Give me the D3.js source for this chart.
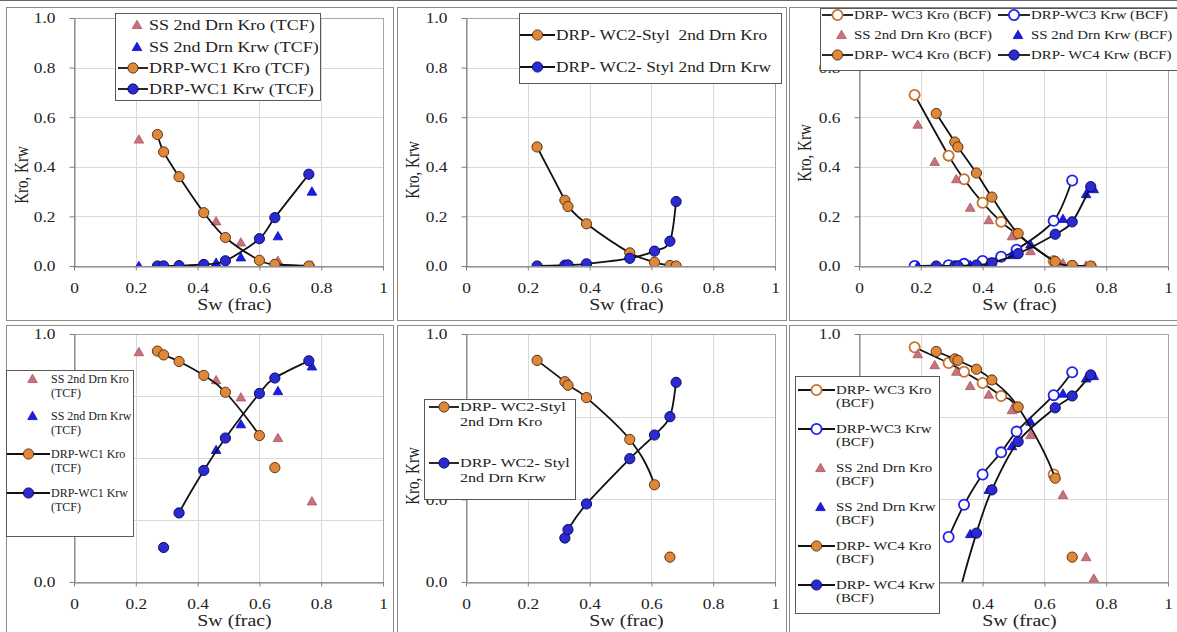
<!DOCTYPE html>
<html>
<head>
<meta charset="utf-8">
<script src="https://cdn.jsdelivr.net/npm/d3@7"></script>
<style>
  body { margin: 0; background: #fff; }
  svg { display: block; }
</style>
</head>
<body>
<div id="chart"></div>
<script>
const W = 1177, H = 632;

// ---- data ----
const swTicks = [0, 0.2, 0.4, 0.6, 0.8, 1];
const linTicks = [0, 0.2, 0.4, 0.6, 0.8, 1];
const logTicks4 = [1, 0.1, 0.01, 0.001, 0.0001];
const logTicks3 = [1, 0.1, 0.01, 0.001];

// steady state, TCF
const ssTcfSw = [0.21, 0.46, 0.54, 0.66, 0.77];
const ssTcfKro = [0.51, 0.18, 0.095, 0.021, 0.002];
const ssTcfKrw = [0, 0.0135, 0.035, 0.12, 0.30];

// DRP WC1 (TCF)
const wc1Sw = [0.27, 0.29, 0.34, 0.42, 0.49, 0.60, 0.65, 0.76];
const wc1Kro = [0.53, 0.46, 0.36, 0.215, 0.115, 0.023, 0.007, 0];
const wc1Krw = [0, 0.00036, 0.0013, 0.0063, 0.021, 0.11, 0.195, 0.37];

// DRP WC2 Styl
const wc2Sw = [0.23, 0.32, 0.33, 0.39, 0.53, 0.61, 0.66, 0.68];
const wc2Kro = [0.48, 0.265, 0.24, 0.17, 0.053, 0.015, 0.002, 0];
const wc2Krw = [0, 0.0034, 0.0043, 0.0088, 0.031, 0.06, 0.10, 0.26];

// DRP WC3 (BCF)
const wc3Sw = [0.18, 0.29, 0.34, 0.40, 0.46, 0.51, 0.63, 0.69];
const wc3Kro = [0.69, 0.445, 0.35, 0.255, 0.178, 0.13, 0.02, 0];
const wc3Krw = [0, 0.0035, 0.0086, 0.020, 0.037, 0.066, 0.182, 0.345];

// DRP WC4 (BCF)
const wc4Sw = [0.25, 0.31, 0.32, 0.38, 0.43, 0.515, 0.635, 0.69, 0.75];
const wc4Kro = [0.615, 0.50, 0.48, 0.375, 0.278, 0.131, 0.018, 0.002, 0];
const wc4Krw = [0, 0.0002, 0.0006, 0.0039, 0.013, 0.05, 0.128, 0.178, 0.32];

// steady state, BCF
const ssBcfSw = [0.19, 0.245, 0.315, 0.36, 0.42, 0.495, 0.555, 0.66, 0.735, 0.76];
const ssBcfKro = [0.57, 0.42, 0.35, 0.235, 0.185, 0.12, 0.06, 0.0113, 0.002, 0.0011];
const ssBcfKrw = [0, 0, 0, 0.0038, 0.013, 0.044, 0.087, 0.19, 0.29, 0.31];

// ---- looks ----
const SX = 1.24; // the picture is stretched sideways
const FONT = '"Liberation Serif","Times New Roman",serif';
const INK = "#222";

const looks = {
  ssKro: { shape: "tri", fill: "#c7737c", stroke: "#a9545f", sw: 0.8, line: false },
  ssKrw: { shape: "tri", fill: "#1c1ce6", stroke: "#0c0cb4", sw: 0.8, line: false },
  kro: { shape: "dot", fill: "#e0883a", stroke: "#5c3414", sw: 1, line: true },
  krw: { shape: "dot", fill: "#2a2ad0", stroke: "#0b0b66", sw: 1, line: true },
  kroOpen: { shape: "dot", fill: "#fff", stroke: "#c9702c", sw: 1.8, line: true },
  krwOpen: { shape: "dot", fill: "#fff", stroke: "#2222ee", sw: 1.8, line: true },
};

// logGaps: smoothed segments that the log charts leave out
const series = {
  ssTcfKro: { sw: ssTcfSw, kr: ssTcfKro, look: "ssKro" },
  ssTcfKrw: { sw: ssTcfSw, kr: ssTcfKrw, look: "ssKrw" },
  wc1Kro: { sw: wc1Sw, kr: wc1Kro, look: "kro", logGaps: [5] },
  wc1Krw: { sw: wc1Sw, kr: wc1Krw, look: "krw", logGaps: [1] },
  wc2Kro: { sw: wc2Sw, kr: wc2Kro, look: "kro", logGaps: [5] },
  wc2Krw: { sw: wc2Sw, kr: wc2Krw, look: "krw", logGaps: [1] },
  wc3Kro: { sw: wc3Sw, kr: wc3Kro, look: "kroOpen", logGaps: [5] },
  wc3Krw: { sw: wc3Sw, kr: wc3Krw, look: "krwOpen" },
  wc4Kro: { sw: wc4Sw, kr: wc4Kro, look: "kro", logGaps: [6] },
  wc4Krw: { sw: wc4Sw, kr: wc4Krw, look: "krw" },
  ssBcfKro: { sw: ssBcfSw, kr: ssBcfKro, look: "ssKro" },
  ssBcfKrw: { sw: ssBcfSw, kr: ssBcfKrw, look: "ssKrw" },
};

const cols = [
  { x0: 6, x1: 393, px0: 74, px1: 383 },
  { x0: 397, x1: 786, px0: 466, px1: 775 },
  { x0: 789, x1: 1190, px0: 859, px1: 1168 },
];
const rows = [
  { y0: 7, y1: 320, py0: 18, py1: 266 },
  { y0: 325, y1: 645, py0: 334, py1: 582 },
];

const panels = [
  {
    col: 0, row: 0, ticks: linTicks, titleDy: 157,
    draw: ["ssTcfKro", "ssTcfKrw", "wc1Kro", "wc1Krw"],
    legend: {
      box: [115, 13, 205, 87], font: 14.5, sx: SX, gap: 0,
      colX: [[118, 148, 149]], rowY: [25, 47, 68, 89],
      items: [
        ["ssTcfKro", 0, 0, ["SS 2nd Drn Kro (TCF)"]],
        ["ssTcfKrw", 0, 1, ["SS 2nd Drn Krw (TCF)"]],
        ["wc1Kro", 0, 2, ["DRP-WC1 Kro (TCF)"]],
        ["wc1Krw", 0, 3, ["DRP-WC1 Krw (TCF)"]],
      ],
    },
  },
  {
    col: 1, row: 0, ticks: linTicks, titleDy: 152,
    draw: ["wc2Kro", "wc2Krw"],
    legend: {
      box: [519, 13, 262, 70], font: 14, sx: SX, gap: 0,
      colX: [[520, 555, 556]], rowY: [35, 67],
      items: [
        ["wc2Kro", 0, 0, ["DRP- WC2-Styl  2nd Drn Kro"]],
        ["wc2Krw", 0, 1, ["DRP- WC2- Styl 2nd Drn Krw"]],
      ],
    },
  },
  {
    col: 2, row: 0, ticks: linTicks, titleDy: 135,
    draw: ["wc3Kro", "wc3Krw", "ssBcfKro", "ssBcfKrw", "wc4Kro", "wc4Krw"],
    legend: {
      box: [820, 8, 370, 62], font: 12, sx: SX, gap: 0,
      colX: [[822, 853, 854], [998, 1030, 1031]], rowY: [15, 35, 55],
      items: [
        ["wc3Kro", 0, 0, ["DRP- WC3 Kro (BCF)"]],
        ["wc3Krw", 1, 0, ["DRP-WC3 Krw (BCF)"]],
        ["ssBcfKro", 0, 1, ["SS 2nd Drn Kro (BCF)"]],
        ["ssBcfKrw", 1, 1, ["SS 2nd Drn Krw (BCF)"]],
        ["wc4Kro", 0, 2, ["DRP- WC4 Kro (BCF)"]],
        ["wc4Krw", 1, 2, ["DRP- WC4 Krw (BCF)"]],
      ],
    },
  },
  {
    col: 0, row: 1, ticks: logTicks4, titleDy: 142,
    draw: ["ssTcfKro", "ssTcfKrw", "wc1Kro", "wc1Krw"],
    legend: {
      box: [6, 370, 127, 166], font: 12, sx: 1, gap: 14,
      colX: [[7, 50, 51]], rowY: [379, 416, 454, 493],
      items: [
        ["ssTcfKro", 0, 0, ["SS 2nd Drn Kro", "(TCF)"]],
        ["ssTcfKrw", 0, 1, ["SS 2nd Drn Krw", "(TCF)"]],
        ["wc1Kro", 0, 2, ["DRP-WC1 Kro", "(TCF)"]],
        ["wc1Krw", 0, 3, ["DRP-WC1 Krw", "(TCF)"]],
      ],
    },
  },
  {
    col: 1, row: 1, ticks: logTicks3, titleDy: 142,
    draw: ["wc2Kro", "wc2Krw"],
    legend: {
      box: [424, 399, 151, 100], font: 13, sx: SX, gap: 15,
      colX: [[429, 459, 460]], rowY: [407, 463],
      items: [
        ["wc2Kro", 0, 0, ["DRP- WC2-Styl", "2nd Drn Kro"]],
        ["wc2Krw", 0, 1, ["DRP- WC2- Styl", "2nd Drn Krw"]],
      ],
    },
  },
  {
    col: 2, row: 1, ticks: logTicks3, titleDy: 142,
    draw: ["wc3Kro", "wc3Krw", "ssBcfKro", "ssBcfKrw", "wc4Kro", "wc4Krw"],
    legend: {
      box: [795, 376, 144, 237], font: 12, sx: SX, gap: 13,
      colX: [[798, 835, 836]], rowY: [390, 429, 468, 507, 546, 585],
      items: [
        ["wc3Kro", 0, 0, ["DRP- WC3 Kro", "(BCF)"]],
        ["wc3Krw", 0, 1, ["DRP-WC3 Krw", "(BCF)"]],
        ["ssBcfKro", 0, 2, ["SS 2nd Drn Kro", "(BCF)"]],
        ["ssBcfKrw", 0, 3, ["SS 2nd Drn Krw", "(BCF)"]],
        ["wc4Kro", 0, 4, ["DRP- WC4 Kro", "(BCF)"]],
        ["wc4Krw", 0, 5, ["DRP- WC4 Krw", "(BCF)"]],
      ],
    },
  },
];

// ---- drawing ----
const svg = d3.select("#chart").append("svg")
  .attr("width", W).attr("height", H)
  .style("font-family", FONT);

svg.append("rect").attr("width", W).attr("height", H).attr("fill", "#fff");
svg.append("line").attr("x1", 0).attr("x2", W).attr("y1", 0.5).attr("y2", 0.5)
  .attr("stroke", "#666");

const triangle = d3.symbol(d3.symbolTriangle, 40);

function marker(g, lk, x, y) {
  if (lk.shape === "tri") {
    g.append("path").attr("d", triangle())
      .attr("transform", `translate(${x},${y + 0.8})`)
      .attr("fill", lk.fill).attr("stroke", lk.stroke).attr("stroke-width", lk.sw);
  } else {
    g.append("circle").attr("cx", x).attr("cy", y).attr("r", 5.1)
      .attr("fill", lk.fill).attr("stroke", lk.stroke).attr("stroke-width", lk.sw);
  }
}

// stretched text
function label(g, x, y, s, size, sx, anchor) {
  return g.append("text")
    .attr("transform", `translate(${x},${y}) scale(${sx},1)`)
    .attr("text-anchor", anchor || "start")
    .attr("font-size", size).attr("fill", INK)
    .style("white-space", "pre")
    .text(s);
}

// smoothed segment between pts[i] and pts[i+1]
function segment(path, pts, ok, i) {
  const p1 = pts[i], p2 = pts[i + 1];
  const p0 = (i > 0 && ok[i - 1]) ? pts[i - 1] : p1;
  const p3 = (i + 2 < pts.length && ok[i + 2]) ? pts[i + 2] : p2;
  path.moveTo(p1[0], p1[1]);
  path.bezierCurveTo(
    p1[0] + (p2[0] - p0[0]) / 6, p1[1] + (p2[1] - p0[1]) / 6,
    p2[0] - (p3[0] - p1[0]) / 6, p2[1] - (p3[1] - p1[1]) / 6,
    p2[0], p2[1]);
}

panels.forEach((p, pi) => {
  const c = cols[p.col], r = rows[p.row];
  const isLog = p.ticks[0] === 1;
  const g = svg.append("g");

  g.append("rect")
    .attr("x", c.x0 + 0.5).attr("y", r.y0 + 0.5)
    .attr("width", c.x1 - c.x0).attr("height", r.y1 - r.y0)
    .attr("fill", "#fff").attr("stroke", "#8c8c8c");

  const x = d3.scaleLinear().domain([0, 1]).range([c.px0, c.px1]);
  const y = isLog
    ? d3.scaleLog().domain([d3.min(p.ticks), 1]).range([r.py1, r.py0])
    : d3.scaleLinear().domain([0, 1]).range([r.py1, r.py0]);

  // gridlines
  g.append("g").selectAll("line").data(p.ticks).join("line")
    .attr("x1", c.px0).attr("x2", c.px1)
    .attr("y1", d => Math.round(y(d)) + 0.5).attr("y2", d => Math.round(y(d)) + 0.5)
    .attr("stroke", "#d9d9d9");
  g.append("g").selectAll("line").data(swTicks).join("line")
    .attr("x1", d => Math.round(x(d)) + 0.5).attr("x2", d => Math.round(x(d)) + 0.5)
    .attr("y1", r.py0).attr("y2", r.py1)
    .attr("stroke", "#d9d9d9");
  g.append("rect")
    .attr("x", c.px0 + 0.5).attr("y", r.py0 + 0.5)
    .attr("width", c.px1 - c.px0).attr("height", r.py1 - r.py0)
    .attr("fill", "none").attr("stroke", "#a6a6a6");

  // axes
  const xAxis = d3.axisBottom(x).tickValues(swTicks).tickSize(4).tickSizeOuter(0)
    .tickFormat(d => (d === 0 || d === 1) ? String(d) : d.toFixed(1));
  g.append("g").attr("transform", `translate(0,${r.py1 + 0.5})`).call(xAxis)
    .attr("font-family", FONT).attr("font-size", 14)
    .call(a => a.selectAll("path,line").attr("stroke", "#7f7f7f"))
    .call(a => a.selectAll("text").attr("y", 27).attr("dy", null)
      .attr("transform", `scale(${SX},1)`).attr("fill", INK));

  const yAxis = d3.axisLeft(y).tickValues(p.ticks).tickSize(5).tickSizeOuter(0)
    .tickFormat(d3.format(".1f"));
  g.append("g").attr("transform", `translate(${c.px0 + 0.5},0)`).call(yAxis)
    .attr("font-family", FONT).attr("font-size", 14)
    .call(a => a.selectAll("path,line").attr("stroke", "#7f7f7f"))
    .call(a => a.selectAll("text").attr("x", -19 / SX).attr("dy", "0.35em")
      .attr("transform", `scale(${SX},1)`).attr("fill", INK));

  label(g, (c.px0 + c.px1) / 2 + 6, r.py1 + 44, "Sw (frac)", 16, SX, "middle");
  g.append("text")
    .attr("transform", `translate(${c.x0 + 22},${r.py0 + p.titleDy}) scale(${SX},1) rotate(-90)`)
    .attr("text-anchor", "middle").attr("font-size", 15).attr("fill", INK)
    .text("Kro, Krw");

  // series
  const clipId = "clip" + pi;
  svg.append("clipPath").attr("id", clipId).append("rect")
    .attr("x", c.px0).attr("y", r.py0)
    .attr("width", c.px1 - c.px0).attr("height", r.py1 - r.py0);
  const plot = g.append("g").attr("clip-path", `url(#${clipId})`);
  const lo = y.domain()[0];

  p.draw.forEach(key => {
    const s = series[key], lk = looks[s.look];
    const ok = s.kr.map(v => !isLog || v > 0);
    const pts = s.sw.map((sw, i) => [x(sw), ok[i] ? y(s.kr[i]) : NaN]);
    if (lk.line) {
      const gaps = isLog ? (s.logGaps || []) : [];
      const path = d3.path();
      for (let i = 0; i < pts.length - 1; i++) {
        if (!ok[i] || !ok[i + 1] || gaps.includes(i)) continue;
        segment(path, pts, ok, i);
      }
      plot.append("path").attr("d", path.toString())
        .attr("fill", "none").attr("stroke", "#111").attr("stroke-width", 1.8);
    }
    s.kr.forEach((v, i) => {
      if (isLog && v < lo) return;
      marker(plot, lk, pts[i][0], pts[i][1]);
    });
  });

  // axis texts fully covered by the legend are not seen in the chart
  const L = p.legend;
  g.selectAll("text").each(function () {
    const b = this.getBoundingClientRect();
    if (b.left >= L.box[0] - 1 && b.right <= L.box[0] + L.box[2] + 1 &&
        b.top >= L.box[1] - 1 && b.bottom <= L.box[1] + L.box[3] + 1) {
      d3.select(this).remove();
    }
  });

  // legend
  const lg = g.append("g");
  lg.append("rect")
    .attr("x", L.box[0] + 0.5).attr("y", L.box[1] + 0.5)
    .attr("width", L.box[2]).attr("height", L.box[3])
    .attr("fill", "#fff").attr("stroke", "#595959");
  L.items.forEach(([key, ci, ri, lines]) => {
    const lk = looks[series[key].look];
    const [l0, l1, tx] = L.colX[ci];
    const yy = L.rowY[ri];
    const mid = (l0 + l1) / 2;
    if (lk.line) {
      lg.append("line").attr("x1", l0).attr("x2", l1).attr("y1", yy).attr("y2", yy)
        .attr("stroke", "#111").attr("stroke-width", 1.8);
      marker(lg, lk, mid, yy);
    } else {
      marker(lg, lk, mid + 4, yy);
    }
    lines.forEach((t, k) => label(lg, tx, yy + L.font * 0.34 + k * L.gap, t, L.font, L.sx));
  });
});
</script>
</body>
</html>
